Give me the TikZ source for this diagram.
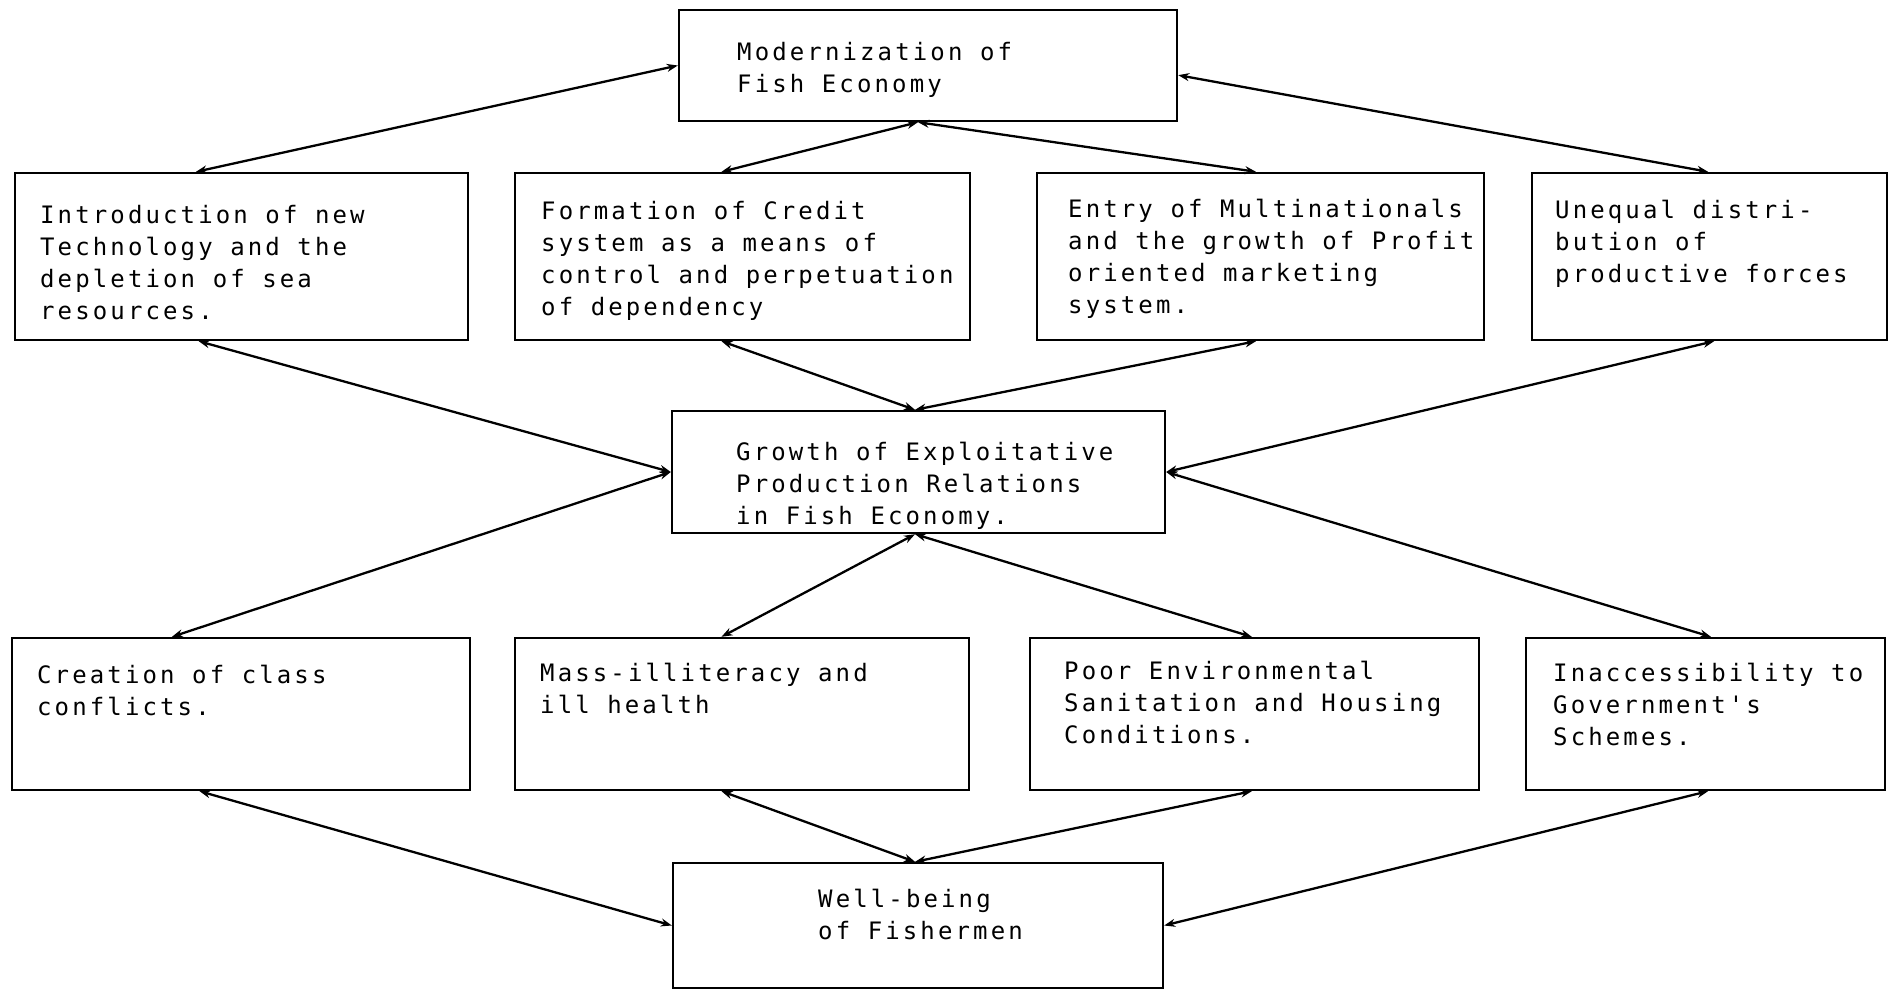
\documentclass[tikz,border=0pt]{standalone}
\usepackage{fontspec}
\newfontfamily\tw[LetterSpace=13]{DejaVu Sans Mono}
\usetikzlibrary{calc,arrows.meta}
\begin{document}
\begin{tikzpicture}[x=1pt,y=-1pt,
  box/.style={draw,line width=2.4pt,rectangle,inner sep=0pt},
  txt/.style={anchor=north west,inner sep=0pt,align=left,font=\tw\fontsize{24}{32}\selectfont},
  conn/.style={line width=2.3pt,{Stealth[length=11pt,width=8pt]}-{Stealth[length=11pt,width=8pt]}}]
\useasboundingbox (0,0) rectangle (1895,990);
% boxes
\node[box,minimum width=498pt,minimum height=111pt] (mod) at (928,65.5) {};
\node[box,minimum width=453pt,minimum height=167pt] (intro) at (241.5,256.5) {};
\node[box,minimum width=455pt,minimum height=167pt] (form) at (742.5,256.5) {};
\node[box,minimum width=447pt,minimum height=167pt] (entry) at (1260.5,256.5) {};
\node[box,minimum width=355pt,minimum height=167pt] (uneq) at (1709.5,256.5) {};
\node[box,minimum width=493pt,minimum height=122pt] (grow) at (918.5,472) {};
\node[box,minimum width=458pt,minimum height=152pt] (creat) at (241,714) {};
\node[box,minimum width=454pt,minimum height=152pt] (mass) at (742,714) {};
\node[box,minimum width=449pt,minimum height=152pt] (poor) at (1254.5,714) {};
\node[box,minimum width=359pt,minimum height=152pt] (inacc) at (1705.5,714) {};
\node[box,minimum width=490pt,minimum height=125pt] (well) at (918,925.5) {};
% texts
\node[txt] (tmod) at (737,42) {Modernization of\\Fish Economy};
\node[txt] (tintro) at (40,205) {Introduction of new\\Technology and the\\depletion of sea\\resources.};
\node[txt] (tform) at (541,201) {Formation of Credit\\system as a means of\\control and perpetuation\\of dependency};
\node[txt] (tentry) at (1068,199) {Entry of Multinationals\\and the growth of Profit\\oriented marketing\\system.};
\node[txt] (tuneq) at (1555,200) {Unequal distri-\\bution of\\productive forces};
\node[txt] (tgrow) at (736,442) {Growth of Exploitative\\Production Relations\\in Fish Economy.};
\node[txt] (tcreat) at (37,665) {Creation of class\\conflicts.};
\node[txt] (tmass) at (540,663) {Mass-illiteracy and\\ill health};
\node[txt] (tpoor) at (1064,661) {Poor Environmental\\Sanitation and Housing\\Conditions.};
\node[txt] (tinacc) at (1553,663) {Inaccessibility to\\Government's\\Schemes.};
\node[txt] (twell) at (818,889) {Well-being\\of Fishermen};
% connectors: level 1
\draw[conn] (mod.west) -- ($(intro.north west)!0.40!(intro.north east)$);
\draw[conn] ($(mod.south west)!0.48!(mod.south east)$) -- ($(form.north west)!0.454!(form.north east)$);
\draw[conn] ($(mod.south west)!0.48!(mod.south east)$) -- ($(entry.north west)!0.49!(entry.north east)$);
\draw[conn] ($(mod.north east)!0.585!(mod.south east)$) -- ($(uneq.north west)!0.496!(uneq.north east)$);
% level 2
\draw[conn] ($(intro.south west)!0.406!(intro.south east)$) -- (grow.west);
\draw[conn] ($(form.south west)!0.454!(form.south east)$) -- ($(grow.north west)!0.493!(grow.north east)$);
\draw[conn] ($(entry.south west)!0.49!(entry.south east)$) -- ($(grow.north west)!0.493!(grow.north east)$);
\draw[conn] ($(uneq.south west)!0.513!(uneq.south east)$) -- (grow.east);
% level 3
\draw[conn] (grow.west) -- ($(creat.north west)!0.35!(creat.north east)$);
\draw[conn] ($(grow.south west)!0.493!(grow.south east)$) -- ($(mass.north west)!0.455!(mass.north east)$);
\draw[conn] ($(grow.south west)!0.493!(grow.south east)$) -- ($(poor.north west)!0.494!(poor.north east)$);
\draw[conn] (grow.east) -- ($(inacc.north west)!0.515!(inacc.north east)$);
% level 4
\draw[conn] ($(creat.south west)!0.41!(creat.south east)$) -- (well.west);
\draw[conn] ($(mass.south west)!0.455!(mass.south east)$) -- ($(well.north west)!0.494!(well.north east)$);
\draw[conn] ($(poor.south west)!0.494!(poor.south east)$) -- ($(well.north west)!0.494!(well.north east)$);
\draw[conn] ($(inacc.south west)!0.507!(inacc.south east)$) -- (well.east);
\end{tikzpicture}
\end{document}
